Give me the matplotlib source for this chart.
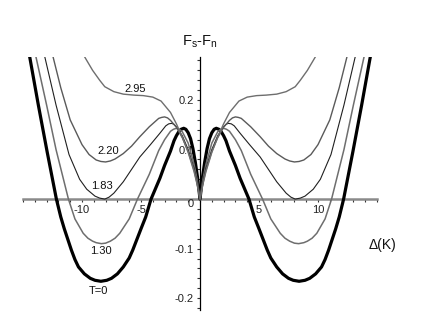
import numpy as np
import matplotlib
matplotlib.use("Agg")
import matplotlib.pyplot as plt
from matplotlib.ticker import MultipleLocator, FixedLocator

plt.rcParams['font.family'] = ['Liberation Sans', 'DejaVu Sans']
plt.rcParams['mathtext.fontset'] = 'custom'
plt.rcParams['mathtext.rm'] = 'Liberation Sans'

# ---- data (right half, curves are symmetric in Delta) ----
d_T0 = [0, 0.2, 0.4, 0.6, 0.8, 1.0, 1.2, 1.38, 1.6, 1.8, 2.0, 2.2, 2.5, 3.0, 3.4,
        4.15, 4.6, 5.0, 5.7, 6.0, 6.5, 7.0, 7.5, 7.9, 8.4, 8.9, 9.3, 9.8, 10.3,
        10.6, 10.9, 11.5, 11.8, 12.17, 12.95, 13.7, 14.43, 14.55]
f_T0 = [0, 0.042, 0.075, 0.102, 0.122, 0.134, 0.141, 0.143, 0.141, 0.136, 0.128,
        0.118, 0.097, 0.068, 0.042, 0.0, -0.036, -0.06, -0.103, -0.119, -0.137,
        -0.151, -0.160, -0.164, -0.166, -0.164, -0.160, -0.151, -0.137, -0.122,
        -0.103, -0.060, -0.036, 0.0, 0.095, 0.19, 0.287, 0.30]

d_130 = [0, 0.25, 0.5, 1.0, 1.5, 1.75, 2.0, 2.25, 2.5, 3.0, 3.5, 4.3, 5.3, 6.0,
         6.8, 7.2, 7.6, 8.0, 8.36, 8.8, 9.1, 9.5, 9.9, 10.6, 11.15, 12.2, 13.0,
         13.9, 14.0]
f_130 = [0, 0.04, 0.07, 0.113, 0.136, 0.141, 0.143, 0.141, 0.137, 0.12, 0.098,
         0.05, 0.0, -0.04, -0.069, -0.079, -0.085, -0.089, -0.090, -0.088, -0.085,
         -0.079, -0.069, -0.04, 0.0, 0.10, 0.19, 0.287, 0.30]

d_183 = [0, 0.25, 0.5, 1.0, 1.5, 2.0, 2.2, 2.4, 2.65, 2.9, 3.4, 4.2, 5.1, 5.8,
         6.5, 7.3, 7.7, 8.07, 8.5, 8.9, 9.6, 10.2, 11.1, 12.2, 13.15, 13.3]
f_183 = [0, 0.035, 0.062, 0.10, 0.128, 0.146, 0.151, 0.153, 0.152, 0.148, 0.133,
         0.11, 0.085, 0.06, 0.035, 0.012, 0.004, 0.0, 0.002, 0.006, 0.02, 0.04,
         0.09, 0.19, 0.287, 0.302]

d_220 = [0, 0.25, 0.5, 1.0, 1.5, 2.0, 2.5, 2.75, 3.0, 3.25, 3.5, 4.3, 5.1, 5.8,
         6.5, 7.2, 7.6, 8.0, 8.4, 8.8, 9.4, 10.0, 11.0, 11.8, 12.45, 12.6]
f_220 = [0, 0.032, 0.058, 0.096, 0.124, 0.145, 0.159, 0.164, 0.166, 0.165, 0.163,
         0.146, 0.126, 0.107, 0.092, 0.081, 0.077, 0.075, 0.076, 0.079, 0.09,
         0.11, 0.16, 0.225, 0.287, 0.302]

d_295 = [0, 0.25, 0.5, 1.0, 1.5, 2.0, 2.5, 3.3, 4.0, 4.8, 5.6, 6.5, 7.3, 8.07,
         8.5, 9.1, 9.77, 9.9]
f_295 = [0, 0.03, 0.055, 0.094, 0.125, 0.152, 0.175, 0.198, 0.206, 0.209, 0.21,
         0.212, 0.217, 0.227, 0.24, 0.26, 0.287, 0.294]

curve_labels = ["T=0", "1.30", "1.83", "2.20", "2.95"]
label_pos = [(-8.6, -0.185), (-8.4, -0.105), (-8.3, 0.026), (-7.8, 0.097), (-5.5, 0.223)]

xticks_major = [-10, -5, 5, 10]
xtick_labels = ["-10", "-5", "5", "10"]
yticks_major = [-0.2, -0.1, 0.1, 0.2]
ytick_labels = ["-0.2", "-0.1", "0.1", "0.2"]

def mirror(d, f):
    d = np.asarray(d, float)
    f = np.asarray(f, float)
    return np.concatenate([-d[::-1], d[1:]]), np.concatenate([f[::-1], f[1:]])

fig = plt.figure(figsize=(4.36, 3.34), dpi=100)
ax = fig.add_axes([23/436, 24/334, 354/436, 253/334])
ax.set_xlim(-15, 15)
ax.set_ylim(-0.224, 0.287)

styles = [
    (d_T0, f_T0, 'black', 2.3),
    (d_130, f_130, '#6e6e6e', 1.1),
    (d_183, f_183, '#202020', 0.8),
    (d_220, f_220, '#5a5a5a', 1.0),
    (d_295, f_295, '#6e6e6e', 1.0),
]
for d, f, c, lw in styles:
    x, y = mirror(d, f)
    ax.plot(x, y, color=c, lw=lw, solid_joinstyle='round', zorder=3)

for txt, (lx, ly) in zip(curve_labels, label_pos):
    ax.text(lx, ly, txt, fontsize=8, ha='center', va='center', color='#111111', zorder=4)

# axes through origin
for s in ['top', 'right']:
    ax.spines[s].set_visible(False)
ax.spines['left'].set_position(('data', 0))
ax.spines['bottom'].set_position(('data', 0))
ax.spines['bottom'].set_color('#8a8a8a')
ax.spines['bottom'].set_linewidth(1.8)
ax.spines['left'].set_color('black')
ax.spines['left'].set_linewidth(0.9)
ax.spines['bottom'].set_zorder(2)
ax.spines['left'].set_zorder(2)

ax.xaxis.set_major_locator(FixedLocator(xticks_major))
ax.set_xticklabels(xtick_labels)
ax.xaxis.set_minor_locator(MultipleLocator(1))
ax.yaxis.set_major_locator(FixedLocator(yticks_major))
ax.set_yticklabels(ytick_labels)
ax.yaxis.set_minor_locator(MultipleLocator(0.02))
ax.tick_params(axis='both', which='both', direction='out', length=2.5, width=0.8,
               color='#333333', labelsize=8, labelcolor='#222222')
ax.tick_params(axis='x', which='major', pad=2)
ax.tick_params(axis='y', which='major', pad=2)

ax.text(-0.8, -0.009, "0", fontsize=8, ha='center', va='center', color='#222222')

fig.text(200/436, 1 - 42/334, r"F$_\mathregular{s}$-F$_\mathregular{n}$", fontsize=10.5,
         ha='center', va='center', color='#111111')
fig.text(382/436, 1 - 245/334, "Δ(K)", fontsize=10, ha='center', va='center', color='#111111')

fig.savefig("out.png", dpi=100)
